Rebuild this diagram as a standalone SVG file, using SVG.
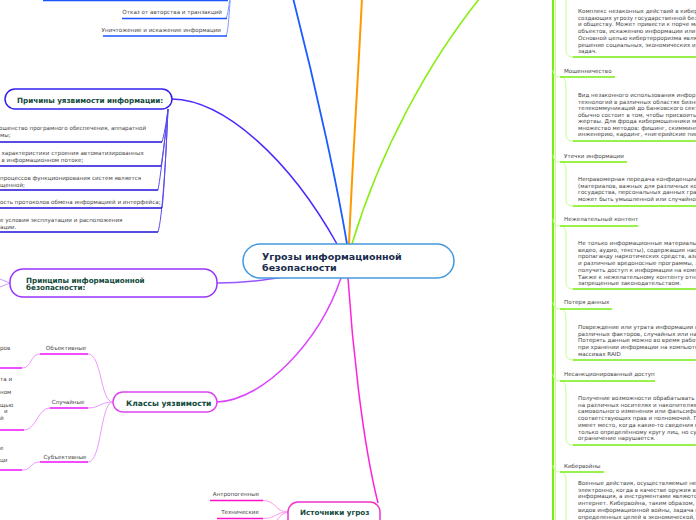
<svg xmlns="http://www.w3.org/2000/svg" width="696" height="520" viewBox="0 0 696 520">
<style>
.t{font-family:"DejaVu Sans",Verdana,sans-serif;font-size:5.6px;fill:#444}
.h{font-family:"DejaVu Sans",Verdana,sans-serif;font-weight:bold;fill:#124a3c}
.c{fill:none}
.gu{stroke:#77ee11;stroke-width:1.5;fill:none}
.gl{stroke:#c4ff8a;stroke-width:1;fill:none}
.bu{stroke:#2211dd;stroke-width:1.5;fill:none}
.bl{stroke:#5a4aee;stroke-width:1;fill:none}
.mu{stroke:#ee11ff;stroke-width:1.5;fill:none}
.ml{stroke:#ee99ff;stroke-width:1;fill:none}
.pu{stroke:#ff11cc;stroke-width:1.5;fill:none}
.pl{stroke:#ff99ee;stroke-width:1;fill:none}
</style>
<rect width="696" height="520" fill="#fff"/>
<g id="connectors">
<path d="M347,244 C338,190 318,95 293,-2" stroke="#1a5cff" stroke-width="1.8" fill="none"/>
<path d="M349,244 C352,170 358,80 362,-2" stroke="#ff9900" stroke-width="2" fill="none"/>
<path d="M352,244 C380,150 430,60 480,-2" stroke="#88ee11" stroke-width="1.6" fill="none"/>
<path d="M172,99 C225,100 290,160 337,244" stroke="#4a2aff" stroke-width="1.5" fill="none"/>
<path d="M217,283 C245,283 265,280 290,276" stroke="#9955ff" stroke-width="1.5" fill="none"/>
<path d="M217,402 C265,400 320,340 341,278" stroke="#dd44ff" stroke-width="1.5" fill="none"/>
<path d="M348,278 C352,340 362,440 378,503" stroke="#ff22dd" stroke-width="1.5" fill="none"/>
<!-- top blue children -->
<path d="M232,-15 C229,0 229,12 226,18.5" stroke="#7799ff" stroke-width="1" fill="none"/>
<path d="M232,-15 C229,5 229,30 226,36" stroke="#7799ff" stroke-width="1" fill="none"/>
<!-- Причины children -->
<path class="bl" d="M168,109 C166,125 164,135 162,142"/>
<path class="bl" d="M168,109 C166,130 163,155 161,166"/>
<path class="bl" d="M168,109 C165,140 160,180 158,190"/>
<path class="bl" d="M168,109 C166,150 164,195 162,208"/>
<path class="bl" d="M168,109 C166,160 162,220 158,232"/>
<!-- Принципы marker -->
<path d="M10,283 L0,279 M10,283 L0,287" stroke="#cc99ff" stroke-width="1" fill="none"/>
<!-- Классы children -->
<path class="ml" d="M113,402 C100,402 102,354 88,354"/>
<path class="ml" d="M113,402 C100,402 100,408 88,408"/>
<path class="ml" d="M113,402 C100,402 102,462 88,462"/>
<path class="ml" d="M40,354 C30,354 32,368 22,368"/>
<path class="ml" d="M50,408 C38,408 36,430 24,430"/>
<path class="ml" d="M40,462 C30,462 32,470 22,470"/>
<!-- Источники children -->
<path class="pl" d="M288,512 C275,512 276,500.5 263,500.5"/>
<path class="pl" d="M288,512 C276,512 276,518.5 263,518.5"/>
<path class="pl" d="M288,512 C278,514 276,525 266,530"/>
<!-- green list -->
<path d="M553,0 L553,520" stroke="#77ee11" stroke-width="2" fill="none"/>
<path d="M555.5,0 L555.5,520" stroke="#c4ff8a" stroke-width="1" fill="none"/>
<path class="gl" d="M566,-10 L566,49 C566,55 568,57 574,57"/>
<path class="gl" d="M553,70 C554,76 556,77 561,77 C566,77 566,84 566,92 L566,133 C566,139 568,141 574,141"/>
<path class="gl" d="M553,155 C554,161 556,162 561,162 C566,162 566,169 566,176 L566,198 C566,204 568,206 574,206"/>
<path class="gl" d="M553,219 C554,225 556,226 561,226 C566,226 566,233 566,240 L566,281 C566,287 568,289 574,289"/>
<path class="gl" d="M553,302 C554,308 556,309 561,309 C566,309 566,316 566,323 L566,352 C566,358 568,360 574,360"/>
<path class="gl" d="M553,374 C554,380 556,381 561,381 C566,381 566,388 566,395 L566,437 C566,443 568,445 574,445"/>
<path class="gl" d="M553,465 C554,471 556,472 561,472 C566,472 566,479 566,486 L566,525"/>
</g>
<g id="center">
<rect x="243" y="244" width="211" height="34" rx="17" fill="#fff" stroke="#4499dd" stroke-width="1.5"/>
<text class="h" x="262" y="259.5" font-size="9.5" style="fill:#1a2b4c">Угрозы информационной</text>
<text class="h" x="262" y="270.5" font-size="9.5" style="fill:#1a2b4c">безопасности</text>
</g>
<g id="top-blue">
<path class="c" d="M43,0.5 L228,0.5" stroke="#1a55ff" stroke-width="1.5"/>
<text class="t" x="222" y="14" text-anchor="end">Отказ от авторства и транзакций</text>
<path class="c" d="M122,18.5 L227,18.5" stroke="#1a55ff" stroke-width="1.5"/>
<text class="t" x="221" y="32" text-anchor="end">Уничтожение и искажение информации</text>
<path class="c" d="M103,36 L227,36" stroke="#1a55ff" stroke-width="1.5"/>
</g>
<g id="prichiny">
<rect x="5" y="89" width="167" height="20" rx="10" fill="#fff" stroke="#3322ee" stroke-width="1.5"/>
<text class="h" x="17" y="102.5" font-size="7.2">Причины уязвимости информации:</text>
</g>
<g id="prichiny-children">
<text class="t" x="-1" y="130">ошенство програмного обеспечения, аппаратной</text>
<text class="t" x="0" y="136.5">мы;</text>
<path class="bu" d="M0,142 L162,142"/>
<text class="t" x="1.5" y="155">характеристики строения автоматизированных</text>
<text class="t" x="1.5" y="162">в информационном потоке;</text>
<path class="bu" d="M0,166 L161,166"/>
<text class="t" x="0" y="180">процессов функционирования систем является</text>
<text class="t" x="0" y="186.5">щенной;</text>
<path class="bu" d="M0,190 L158,190"/>
<text class="t" x="0" y="204">ость протоколов обмена информацией и интерфейса;</text>
<path class="bu" d="M0,208 L162,208"/>
<text class="t" x="0" y="222">е условия эксплуатации и расположения</text>
<text class="t" x="0" y="229">ации.</text>
<path class="bu" d="M0,232 L158,232"/>
</g>
<g id="principy">
<rect x="10" y="269" width="207" height="28" rx="13" fill="#fff" stroke="#9933ff" stroke-width="1.5"/>
<text class="h" x="26" y="282.5" font-size="7.2">Принципы информационной</text>
<text class="h" x="26" y="290" font-size="7.2">безопасности:</text>
</g>
<g id="klassy">
<rect x="113" y="392" width="104" height="20" rx="10" fill="#fff" stroke="#dd44ee" stroke-width="1.5"/>
<text class="h" x="126" y="405.5" font-size="7.6">Классы уязвимости</text>
</g>
<g id="klassy-children">
<text class="t" x="66" y="350" text-anchor="middle">Объективные</text>
<path class="mu" d="M40,354 L88,354"/>
<text class="t" x="68" y="404" text-anchor="middle">Случайные</text>
<path class="mu" d="M50,408 L88,408"/>
<text class="t" x="65" y="458.5" text-anchor="middle">Субъективные</text>
<path class="mu" d="M40,462 L88,462"/>
<text class="t" x="0" y="350">ров</text>
<path class="mu" d="M0,368 L22,368"/>
<text class="t" x="0" y="381">та и</text>
<text class="t" x="0" y="394">ном</text>
<text class="t" x="0" y="407">щью</text>
<text class="t" x="4" y="413">и</text>
<text class="t" x="0" y="420">й</text>
<path class="mu" d="M0,430 L24,430"/>
<text class="t" x="0" y="450">е</text>
<text class="t" x="0" y="462">ци</text>
<path class="mu" d="M0,470 L22,470"/>
</g>
<g id="istochniki">
<rect x="288" y="502" width="92" height="30" rx="10" fill="#fff" stroke="#ee33cc" stroke-width="1.5"/>
<text class="h" x="300" y="514.5" font-size="7.2">Источники угроз</text>
</g>
<g id="istochniki-children">
<text class="t" x="236" y="496" text-anchor="middle">Антропогенные</text>
<path class="pu" d="M210,500.5 L263,500.5"/>
<text class="t" x="240" y="514" text-anchor="middle">Технические</text>
<path class="pu" d="M217,518.5 L263,518.5"/>
</g>
<g id="green-children">
<text class="t" x="578" y="13">Комплекс незаконных действий в киберп</text>
<text class="t" x="578" y="19.7">создающих угрозу государственной безо</text>
<text class="t" x="578" y="26.4">и обществу. Может привести к порче маг</text>
<text class="t" x="578" y="33.1">объектов, искажению информации или р</text>
<text class="t" x="578" y="39.8">Основной целью кибертерроризма являе</text>
<text class="t" x="578" y="46.5">решение социальных, экономических и п</text>
<text class="t" x="578" y="53.2">задач.</text>
<path class="gu" d="M573,57 L700,57"/>

<text class="t" x="564" y="73">Мошенничество</text>
<path class="gu" d="M560,77 L615,77"/>
<text class="t" x="578" y="97">Вид незаконного использования инфор</text>
<text class="t" x="578" y="103.5">технологий в различных областях бизне</text>
<text class="t" x="578" y="110">телекоммуникаций до банковского секто</text>
<text class="t" x="578" y="116.5">обычно состоит в том, чтобы присвоить ,</text>
<text class="t" x="578" y="123">жертвы. Для фрода кибермошенники мо</text>
<text class="t" x="578" y="129.5">множество методов: фишинг, скимминг,</text>
<text class="t" x="578" y="136">инженерию, кардинг, «нигерийские пис</text>
<path class="gu" d="M573,141 L700,141"/>

<text class="t" x="564" y="158">Утечки информации</text>
<path class="gu" d="M560,162 L627,162"/>
<text class="t" x="578" y="181">Неправомерная передача конфиденциал</text>
<text class="t" x="578" y="187.7">(материалов, важных для различных ком</text>
<text class="t" x="578" y="194.4">государства, персональных данных гра</text>
<text class="t" x="578" y="201.1">может быть умышленной или случайной</text>
<path class="gu" d="M573,206 L700,206"/>

<text class="t" x="564" y="221">Нежелательный контент</text>
<path class="gu" d="M560,226 L638,226"/>
<text class="t" x="578" y="245">Не только информационные материалы (</text>
<text class="t" x="578" y="251.7">видео, аудио, тексты), содержащие нас</text>
<text class="t" x="578" y="258.4">пропаганду наркотических средств, азар</text>
<text class="t" x="578" y="265.1">и различные вредоносные программы, з</text>
<text class="t" x="578" y="271.8">получить доступ к информации на компь</text>
<text class="t" x="578" y="278.5">Также к нежелательному контенту относ</text>
<text class="t" x="578" y="285.2">запрещенные законодательством.</text>
<path class="gu" d="M573,289 L700,289"/>

<text class="t" x="564" y="304">Потеря данных</text>
<path class="gu" d="M560,309 L612,309"/>
<text class="t" x="578" y="329">Повреждение или утрата информации в</text>
<text class="t" x="578" y="335.7">различных факторов, случайных или на</text>
<text class="t" x="578" y="342.4">Потерять данные можно во время работ</text>
<text class="t" x="578" y="349.1">при хранении информации на компьютер</text>
<text class="t" x="578" y="355.8">массивах RAID</text>
<path class="gu" d="M573,360 L700,360"/>

<text class="t" x="564" y="376">Несанкционированный доступ</text>
<path class="gu" d="M560,381 L655,381"/>
<text class="t" x="578" y="400">Получение возможности обрабатывать д</text>
<text class="t" x="578" y="406.7">на различных носителях и накопителях,</text>
<text class="t" x="578" y="413.4">самовольного изменения или фальсифи</text>
<text class="t" x="578" y="420.1">соответствующих прав и полномочий. По</text>
<text class="t" x="578" y="426.8">имеет место, когда какие-то сведения пр</text>
<text class="t" x="578" y="433.5">только определённому кругу лиц, но су</text>
<text class="t" x="578" y="440.2">ограничение нарушается.</text>
<path class="gu" d="M573,445 L700,445"/>

<text class="t" x="564" y="468">Кибервойны</text>
<path class="gu" d="M560,472 L604,472"/>
<text class="t" x="578" y="485">Военные действия, осуществляемые не</text>
<text class="t" x="578" y="491.7">электронно, когда в качестве оружия вы</text>
<text class="t" x="578" y="498.4">информация, а инструментами являются</text>
<text class="t" x="578" y="505.1">интернет. Кибервойна, таким образом, я</text>
<text class="t" x="578" y="511.8">видов информационной войны, задача к</text>
<text class="t" x="578" y="518.5">определенных целей в экономической, п</text>
</g>
</svg>
